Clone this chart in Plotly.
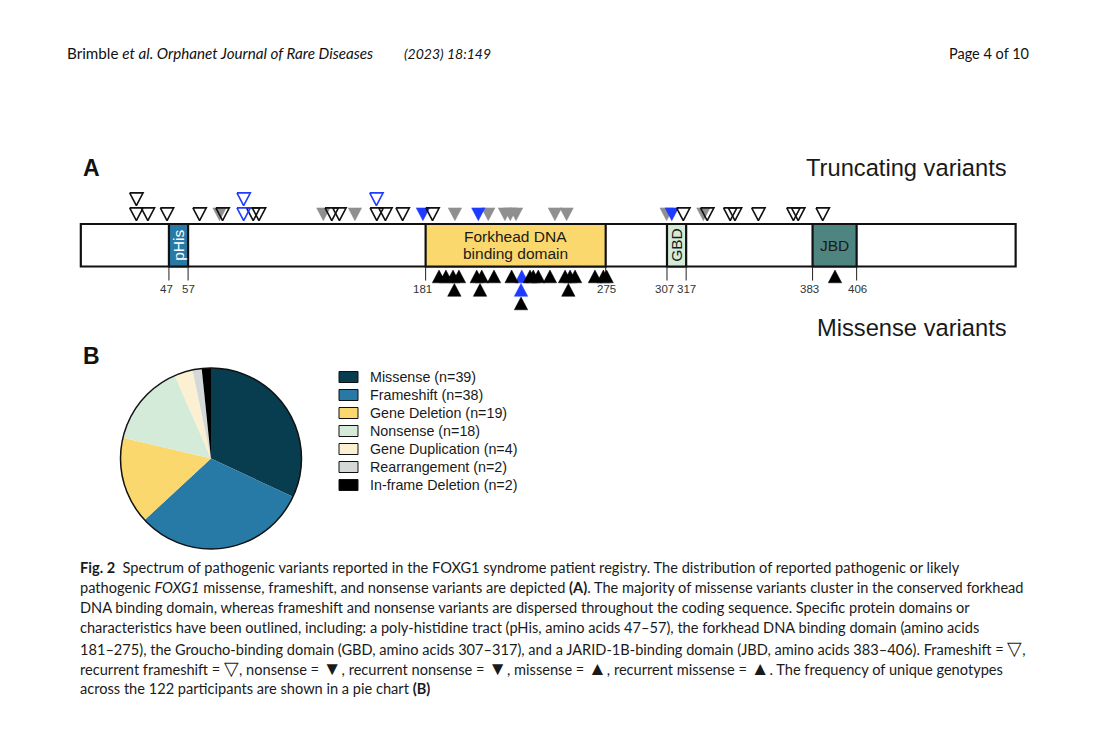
import plotly.graph_objects as go

W, H = 1117, 740

# ---------------- DATA ----------------
protein_length = 489
domain_names = ["pHis", "Forkhead DNA<br>binding domain", "GBD", "JBD"]
domain_start = [47, 181, 307, 383]
domain_end = [57, 275, 317, 406]
domain_colors = ["#2779a6", "#fbd86d", "#d3ebd8", "#4f8580"]
domain_text_colors = ["#ffffff", "#1a1a1a", "#1a1a1a", "#1a1a1a"]
domain_text_angle = [-90, 0, -90, 0]

# truncating variants (amino-acid position, stack level)
frameshift_pos = [30, 36, 46, 63, 75, 91, 94, 132, 136, 155.5, 160, 169, 184.6,
                  315.5, 328, 340, 342.5, 354.7, 373, 375.5, 388.3, 30]
frameshift_lvl = [1] * 21 + [2]
rec_frameshift_pos = [86, 86, 155.3]
rec_frameshift_lvl = [1, 2, 2]
nonsense_pos = [73.4, 127.6, 144.1, 196.3, 213.7, 222.4, 225.2, 228.2, 248.5, 254.6, 306.8, 326]
nonsense_lvl = [1] * 12
rec_nonsense_pos = [179.6, 208.5, 309.5]
rec_nonsense_lvl = [1, 1, 1]

# missense variants (amino-acid position, stack level)
missense_pos = [188, 191.6, 195.3, 198.4, 207.7, 210.3, 216.7, 225.9, 235.5, 237.2,
                239.8, 245.9, 253.8, 256.4, 259, 269.4, 273.8, 275.5, 394.7,
                196, 209.4, 255.5, 230.8]
missense_lvl = [1] * 19 + [2, 2, 2, 3]
rec_missense_pos = [231.2, 230.8]
rec_missense_lvl = [1, 2]

# pie chart
pie_labels = ["Missense", "Frameshift", "Gene Deletion", "Nonsense",
              "Gene Duplication", "Rearrangement", "In-frame Deletion"]
pie_values = [39, 38, 19, 18, 4, 2, 2]
pie_colors = ["#083d4f", "#2779a6", "#fbd86d", "#d3ebd8", "#fcf0d2", "#d5d8d8", "#000000"]

# ---------------- LAYOUT HELPERS ----------------
OFF = 8  # page offset of the plot inside the browser window
PX0, PXS = 78.9 - OFF, 1.9156          # pixel x of aa 0, pixels per aa
BAR_BOTTOM_PX = 266.5 - OFF
BAR_H = 42.5
xr = [-PX0 / PXS, (W - PX0) / PXS]
yr = [BAR_BOTTOM_PX - H, BAR_BOTTOM_PX]

def px(x):
    return (x - OFF) / W

def py(y):
    return 1 - (y - OFF) / H

TRI_HALF = 3.5   # aa
TRI_H = 12.8

def tri_path(pos, lvl, down):
    xs, ys = [], []
    for p, l in zip(pos, lvl):
        if down:
            apex = BAR_H + 3.3 + (l - 1) * 15
            base = apex + TRI_H
        else:
            apex = -3.5 - (l - 1) * 13.5
            base = apex - TRI_H
        xs += [p - TRI_HALF, p + TRI_HALF, p, p - TRI_HALF, None]
        ys += [base, base, apex, base, None]
    return xs, ys

fig = go.Figure()

BLUE = "#1f3bff"
GRAY = "#8f8f8f"

def add_tri(pos, lvl, down, filled, color):
    xs, ys = tri_path(pos, lvl, down)
    if filled:
        fig.add_trace(go.Scatter(x=xs, y=ys, mode="lines", fill="toself",
                                 fillcolor=color, line=dict(color=color, width=0.5),
                                 hoverinfo="skip", showlegend=False))
    else:
        fig.add_trace(go.Scatter(x=xs, y=ys, mode="lines",
                                 line=dict(color=color, width=1.6),
                                 hoverinfo="skip", showlegend=False))

add_tri(nonsense_pos, nonsense_lvl, True, True, GRAY)
add_tri(rec_nonsense_pos, rec_nonsense_lvl, True, True, BLUE)
add_tri(frameshift_pos, frameshift_lvl, True, False, "#111111")
add_tri(rec_frameshift_pos, rec_frameshift_lvl, True, False, BLUE)
add_tri(rec_missense_pos, rec_missense_lvl, False, True, BLUE)
add_tri(missense_pos, missense_lvl, False, True, "#000000")

# pie
pie_x = [px(120.5), px(301.5)]
pie_y = [py(549), py(368)]
fig.add_trace(go.Pie(labels=pie_labels, values=pie_values, sort=False,
                     direction="clockwise", rotation=0,
                     marker=dict(colors=pie_colors, line=dict(width=0)),
                     textinfo="none", hoverinfo="label+value",
                     domain=dict(x=pie_x, y=pie_y), showlegend=False))

shapes = []
annotations = []

TICK_FONT = dict(family="Liberation Sans, Arial", size=11.5, color="#333333")
DOM_FONT = "Liberation Sans, Arial"

# protein bar
shapes.append(dict(type="rect", xref="x", yref="y", x0=1, x1=protein_length, y0=0, y1=BAR_H,
                   fillcolor="white", line=dict(color="#111111", width=2.2), layer="below"))
for name, s, e, c, tc, ang in zip(domain_names, domain_start, domain_end,
                                  domain_colors, domain_text_colors, domain_text_angle):
    shapes.append(dict(type="rect", xref="x", yref="y", x0=s, x1=e, y0=0, y1=BAR_H,
                       fillcolor=c, line=dict(color="#111111", width=2.2), layer="below"))
    for b, shift in ((s, -1.5), (e, 0.2)):
        shapes.append(dict(type="line", xref="x", yref="y", x0=b, x1=b, y0=0, y1=-14,
                           line=dict(color="#222222", width=1), layer="below"))
        annotations.append(dict(xref="x", yref="y", x=b + shift, y=-22, text=str(b),
                                showarrow=False, font=TICK_FONT,
                                xanchor="center", yanchor="middle"))
    parts = name.split("<br>")
    n = len(parts)
    for k, part in enumerate(parts):
        yy = BAR_H / 2 + ((n - 1) / 2 - k) * 16.7
        annotations.append(dict(xref="x", yref="y", x=(s + e) / 2, y=yy, text=part,
                                showarrow=False, textangle=ang,
                                font=dict(family=DOM_FONT, size=15.5, color=tc),
                                xanchor="center", yanchor="middle"))

# pie outline
shapes.append(dict(type="circle", xref="paper", yref="paper", x0=pie_x[0], x1=pie_x[1],
                   y0=pie_y[0], y1=pie_y[1], line=dict(color="#111111", width=1.5)))

# manual legend
for i, (lab, val, col) in enumerate(zip(pie_labels, pie_values, pie_colors)):
    yc = 377 + i * 18
    shapes.append(dict(type="rect", xref="paper", yref="paper", x0=px(339), x1=px(358),
                       y0=py(yc + 5.5), y1=py(yc - 5.5), fillcolor=col,
                       line=dict(color="#111111", width=1)))
    annotations.append(dict(xref="paper", yref="paper", x=px(368), y=py(yc),
                            text=f"{lab} (n={val})", showarrow=False,
                            font=dict(family="Liberation Sans, Arial", size=14.3, color="#1a1a1a"),
                            xanchor="left", yanchor="middle"))

PANEL_FONT = "Liberation Sans, Arial"
annotations += [
    dict(xref="paper", yref="paper", x=px(81), y=py(168), text="<b>A</b>", showarrow=False,
         xanchor="left", yanchor="middle", font=dict(family=PANEL_FONT, size=23, color="#111111")),
    dict(xref="paper", yref="paper", x=px(81), y=py(356), text="<b>B</b>", showarrow=False,
         xanchor="left", yanchor="middle", font=dict(family=PANEL_FONT, size=23, color="#111111")),
    dict(xref="paper", yref="paper", x=px(1009), y=py(168), text="Truncating variants",
         showarrow=False, xanchor="right", yanchor="middle",
         font=dict(family=PANEL_FONT, size=23.7, color="#1a1a1a")),
    dict(xref="paper", yref="paper", x=px(1009), y=py(328), text="Missense variants",
         showarrow=False, xanchor="right", yanchor="middle",
         font=dict(family=PANEL_FONT, size=23.7, color="#1a1a1a")),
]

# header
HFONT = "Lato, Open Sans, sans-serif"
annotations += [
    dict(xref="paper", yref="paper", x=px(65), y=py(53),
         text="Brimble <i>et al. Orphanet Journal of Rare Diseases</i>", showarrow=False,
         xanchor="left", yanchor="middle", font=dict(family=HFONT, size=15.2, color="#111111")),
    dict(xref="paper", yref="paper", x=px(402), y=py(53), text="<i>(2023) 18:149</i>",
         showarrow=False, xanchor="left", yanchor="middle",
         font=dict(family=HFONT, size=14, color="#111111")),
    dict(xref="paper", yref="paper", x=px(1031), y=py(53), text="Page 4 of 10",
         showarrow=False, xanchor="right", yanchor="middle",
         font=dict(family=HFONT, size=14.5, color="#111111")),
]

def sym(ch):
    return f'<span style="font-size:19px">{ch}</span>'

caption_lines = [
    "<b>Fig. 2</b>  Spectrum of pathogenic variants reported in the FOXG1 syndrome patient registry. The distribution of reported pathogenic or likely",
    "pathogenic <i>FOXG1</i> missense, frameshift, and nonsense variants are depicted <b>(A)</b>. The majority of missense variants cluster in the conserved forkhead",
    "DNA binding domain, whereas frameshift and nonsense variants are dispersed throughout the coding sequence. Specific protein domains or",
    "characteristics have been outlined, including: a poly-histidine tract (pHis, amino acids 47–57), the forkhead DNA binding domain (amino acids",
    f"181–275), the Groucho-binding domain (GBD, amino acids 307–317), and a JARID-1B-binding domain (JBD, amino acids 383–406). Frameshift = {sym('▽')},",
    f"recurrent frameshift = {sym('▽')}, nonsense = {sym('▼')}, recurrent nonsense = {sym('▼')}, missense = {sym('▲')}, recurrent missense = {sym('▲')}. The frequency of unique genotypes",
    "across the 122 participants are shown in a pie chart <b>(B)</b>",
]
caption_y = [567, 587, 607, 627, 647, 667, 688]
for t, yy in zip(caption_lines, caption_y):
    annotations.append(dict(xref="paper", yref="paper", x=px(78), y=py(yy), text=t,
                            showarrow=False, xanchor="left", yanchor="middle",
                            font=dict(family=HFONT, size=14.6, color="#1a1a1a")))

fig.update_layout(
    width=W, height=H, margin=dict(l=0, r=0, t=0, b=0),
    paper_bgcolor="white", plot_bgcolor="white",
    xaxis=dict(range=xr, visible=False, fixedrange=True, domain=[0, 1]),
    yaxis=dict(range=yr, visible=False, fixedrange=True, domain=[0, 1]),
    shapes=shapes, annotations=annotations, showlegend=False,
)

fig.write_html("out.html")
